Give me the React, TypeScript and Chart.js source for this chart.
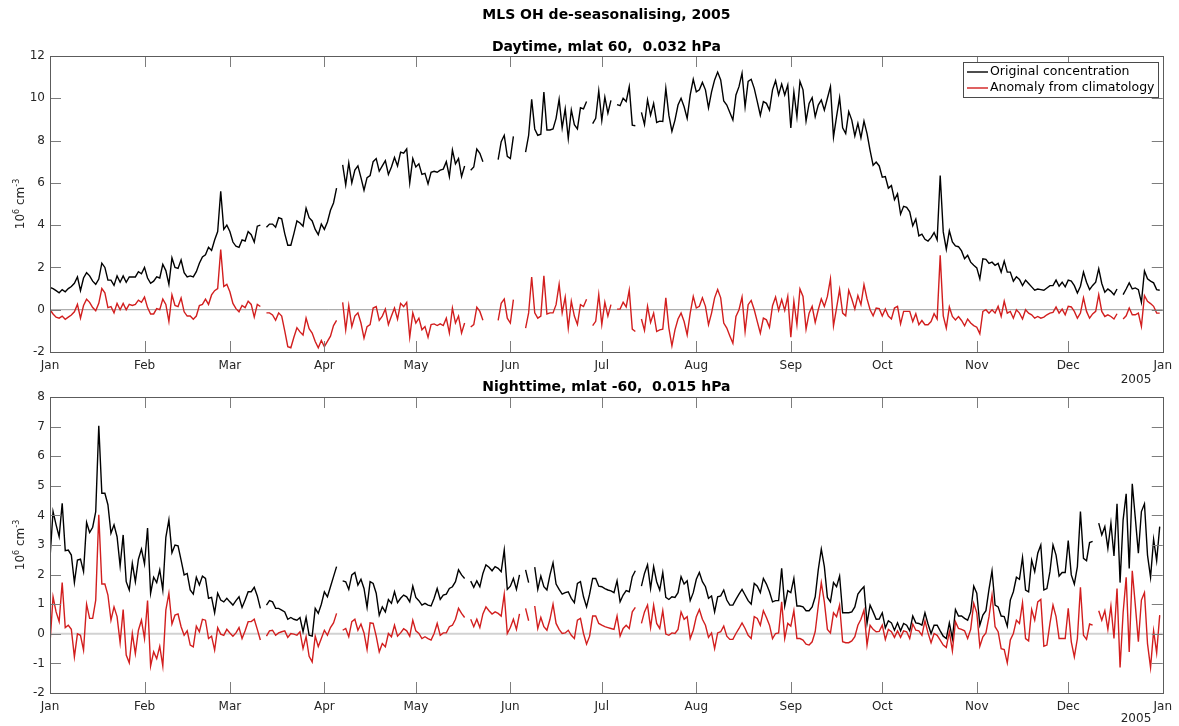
import React, { useEffect, useRef } from 'react';
import { Chart, registerables } from 'chart.js';

Chart.register(...registerables);

// ---- axis labels & titles ----
const MONTH_LABELS = ['Jan', 'Feb', 'Mar', 'Apr', 'May', 'Jun', 'Jul', 'Aug', 'Sep', 'Oct', 'Nov', 'Dec', 'Jan'];
const MONTH_START_DAYS = [0, 31, 59, 90, 120, 151, 181, 212, 243, 273, 304, 334, 365];
const MAIN_TITLE = 'MLS OH de-seasonalising, 2005';
const TOP_SUBTITLE = 'Daytime, mlat 60,  0.032 hPa';
const BOTTOM_SUBTITLE = 'Nighttime, mlat -60,  0.015 hPa';
const LEGEND_LABELS = ['Original concentration', 'Anomaly from climatology'];
const YEAR_LABEL = '2005';
const TOP_Y_RANGE = [-2, 12, 2];
const BOTTOM_Y_RANGE = [-2, 8, 1];

// ---- daily OH, 10^6 cm^-3 (null = no retrieval) ----
const TOP_ORIGINAL = [
  1.05, 1.0, 0.9, 0.8, 0.95, 0.85, 1.0, 1.1, 1.25, 1.55,
  0.9, 1.5, 1.75, 1.6, 1.35, 1.2, 1.45, 2.2, 2.0, 1.4,
  1.4, 1.15, 1.6, 1.3, 1.6, 1.3, 1.55, 1.55, 1.55, 1.8,
  1.7, 2.0, 1.5, 1.25, 1.35, 1.55, 1.5, 2.15, 1.85, 1.2,
  2.45, 2.0, 1.95, 2.35, 1.75, 1.55, 1.6, 1.55, 1.8, 2.2,
  2.5, 2.6, 2.95, 2.8, 3.3, 3.7, 5.6, 3.8, 4.0, 3.7,
  3.2, 3.0, 2.95, 3.3, 3.25, 3.7, 3.55, 3.2, 3.95, 4.0,
  null, 3.9, 4.05, 4.05, 3.9, 4.35, 4.3, 3.6, 3.05, 3.05,
  3.6, 4.2, 4.1, 3.95, 4.8, 4.35, 4.2, 3.8, 3.55, 4.05,
  3.8, 4.15, 4.7, 5.05, 5.75, null, 6.85, 5.9, 6.95, 6.0,
  6.6, 6.8, 6.25, 5.65, 6.25, 6.35, 7.0, 7.15, 6.55, 6.8,
  7.05, 6.4, 6.75, 7.2, 6.8, 7.45, 7.4, 7.6, 6.0, 7.15,
  6.75, 6.9, 6.4, 6.45, 5.95, 6.5, 6.55, 6.5, 6.6, 6.65,
  7.0, 6.3, 7.55, 6.9, 7.15, 6.3, 6.8, null, 6.6, 6.75,
  7.6, 7.4, 7.0, null, null, null, null, 7.1, 7.95, 8.25,
  7.25, 7.15, 8.2, null, null, null, 7.45, 8.25, 9.95, 8.55,
  8.25, 8.3, 10.3, 8.5, 8.5, 8.55, 9.05, 9.95, 8.6, 9.5,
  8.1, 9.45, 8.75, 8.55, 9.55, 9.5, 9.85, null, 8.8, 9.05,
  10.35, 8.95, 10.05, 9.3, 9.9, null, 9.7, 9.65, 10.0, 9.85,
  10.55, 8.73, 8.7, null, 9.33, 8.76, 9.92, 9.2, 9.76, 8.86,
  8.92, 8.9, 10.47, 9.2, 8.44, 8.97, 9.68, 10.0, 9.6, 9.05,
  10.16, 10.9, 10.3, 10.4, 10.75, 10.4, 9.55, 10.3, 10.87, 11.24,
  10.87, 9.87, 9.68, 9.33, 8.97, 10.16, 10.55, 11.19, 9.6, 10.8,
  10.9, 10.47, 9.84, 9.2, 9.84, 9.76, 9.44, 10.4, 10.83, 10.16,
  10.67, 10.16, 10.63, 8.6, 10.3, 9.13, 10.8, 10.4, 8.92, 9.76,
  10.03, 9.13, 9.68, 9.92, 9.44, 10.0, 10.55, 8.17, 9.13, 10.03,
  8.6, 8.33, 9.37, 8.97, 8.22, 8.81, 8.13, 8.92, 8.33, 7.54,
  6.83, 6.98, 6.8, 6.27, 6.3, 5.75, 5.87, 5.2, 5.48, 4.52,
  4.89, 4.84, 4.63, 3.97, 4.29, 3.49, 3.57, 3.33, 3.25, 3.41,
  3.65, 3.3, 6.35, 3.68, 2.86, 3.73, 3.21, 3.02, 2.98, 2.78,
  2.41, 2.57, 2.25, 2.1, 1.98, 1.46, 2.41, 2.38, 2.19, 2.25,
  2.1, 2.19, 1.78, 2.3, 1.78, 1.78, 1.35, 1.56, 1.43, 1.14,
  1.4, 1.24, 1.08, 0.92, 0.98, 0.95, 0.92, 1.03, 1.14, 1.14,
  1.4, 1.11, 1.3, 1.08, 1.4, 1.35, 1.14, 0.79, 1.11, 1.78,
  1.3, 0.95, 1.15, 1.3, 1.94, 1.24, 0.83, 0.98, 0.87, 0.71,
  0.98, null, 0.71, 0.98, 1.27, 0.98, 1.03, 0.95, 0.35, 1.83,
  1.46, 1.35, 1.27, 0.95, 0.92,
];

const TOP_ANOMALY = [
  0.0, -0.2, -0.35, -0.4, -0.3, -0.45, -0.35, -0.25, -0.1, 0.25,
  -0.4, 0.2, 0.5, 0.35, 0.1, -0.05, 0.3, 1.0, 0.8, 0.1,
  0.15, -0.15, 0.3, 0.0, 0.3, 0.0, 0.25, 0.2, 0.25, 0.45,
  0.35, 0.6, 0.1, -0.2, -0.2, 0.05, 0.0, 0.5, 0.25, -0.55,
  0.7, 0.2, 0.15, 0.55, -0.1, -0.3, -0.3, -0.45, -0.3, 0.2,
  0.25, 0.5, 0.25, 0.7, 0.9, 1.0, 2.85, 1.1, 1.2, 0.85,
  0.3, 0.05, -0.1, 0.2, 0.1, 0.4, 0.25, -0.35, 0.25, 0.15,
  null, -0.15, -0.15, -0.25, -0.5, -0.15, -0.3, -1.0, -1.75, -1.8,
  -1.3, -0.85, -1.05, -1.2, -0.4, -0.9, -1.1, -1.5, -1.8, -1.45,
  -1.75, -1.5, -1.25, -0.75, -0.5, null, 0.35, -0.95, 0.2, -0.8,
  -0.3, -0.15, -0.63, -1.35, -0.8, -0.7, 0.08, 0.15, -0.5, -0.3,
  0.03, -0.7, -0.3, 0.08, -0.45, 0.3, 0.15, 0.35, -1.3, -0.15,
  -0.63, -0.4, -0.95, -0.8, -1.3, -0.7, -0.67, -0.75, -0.67, -0.75,
  -0.4, -1.1, 0.08, -0.63, -0.3, -1.1, -0.63, null, -0.82, -0.7,
  0.12, -0.08, -0.5, null, null, null, null, -0.5, 0.3, 0.5,
  -0.4, -0.63, 0.48, null, null, null, -0.87, -0.15, 1.55, -0.15,
  -0.4, -0.3, 1.6, -0.2, -0.15, -0.15, 0.24, 1.2, -0.15, 0.6,
  -0.87, 0.4, -0.3, -0.7, 0.24, 0.15, 0.5, null, -0.75, -0.55,
  0.72, -0.7, 0.35, -0.3, 0.24, null, 0.03, 0.03, 0.35, 0.13,
  0.92, -0.92, -1.03, null, -0.44, -0.98, 0.16, -0.6, -0.16, -1.03,
  -0.95, -0.92, 0.56, -0.87, -1.71, -0.95, -0.44, -0.16, -0.56, -1.19,
  -0.16, 0.63, 0.08, 0.16, 0.56, 0.16, -0.71, -0.16, 0.56, 0.95,
  0.56, -0.63, -0.87, -1.24, -1.59, -0.32, 0.0, 0.6, -1.03, 0.24,
  0.44, 0.0, -0.56, -1.11, -0.4, -0.48, -0.83, 0.19, 0.6, -0.03,
  0.48, -0.03, 0.63, -1.3, 0.4, -0.71, 0.98, 0.63, -0.92, -0.16,
  0.16, -0.6, 0.0, 0.51, 0.16, 0.63, 1.46, -0.76, 0.08, 0.95,
  -0.16, -0.29, 0.92, 0.51, 0.03, 0.67, 0.24, 1.19, 0.51, 0.0,
  -0.29, 0.08, 0.05, -0.3, 0.03, -0.3, -0.44, 0.08, 0.16, -0.67,
  -0.08, -0.08, -0.08, -0.56, -0.19, -0.71, -0.51, -0.71, -0.71, -0.56,
  -0.19, -0.44, 2.57, -0.29, -0.87, 0.13, -0.32, -0.48, -0.32, -0.51,
  -0.76, -0.44, -0.63, -0.75, -0.83, -1.14, -0.08, 0.0, -0.16, 0.0,
  -0.16, 0.16, -0.32, 0.4, -0.16, -0.08, -0.4, 0.0, -0.16, -0.44,
  0.0, -0.16, -0.24, -0.4, -0.32, -0.4, -0.35, -0.24, -0.16, -0.13,
  0.13, -0.16, 0.03, -0.24, 0.16, 0.13, -0.08, -0.4, -0.16, 0.56,
  -0.08, -0.4, -0.2, -0.08, 0.71, -0.08, -0.32, -0.24, -0.32, -0.44,
  -0.19, null, -0.44, -0.29, 0.08, -0.24, -0.24, -0.16, -0.79, 0.67,
  0.4, 0.29, 0.16, -0.16, -0.16,
];

const BOTTOM_ORIGINAL = [
  2.55, 4.13, 3.68, 3.28, 4.41, 2.81, 2.83, 2.66, 1.73, 2.49,
  2.52, 2.1, 3.76, 3.42, 3.6, 4.13, 7.03, 4.75, 4.75, 4.36,
  3.4, 3.68, 3.28, 2.29, 3.34, 1.76, 1.48, 2.38, 1.76, 2.52,
  2.86, 2.36, 3.57, 1.37, 1.91, 1.73, 2.16, 1.48, 3.26, 3.85,
  2.74, 3.0, 2.97, 2.49, 1.99, 2.04, 1.48, 1.34, 1.91, 1.65,
  1.95, 1.87, 1.2, 1.23, 0.71, 1.37, 1.14, 1.08, 1.2, 1.08,
  0.97, 1.12, 1.25, 0.89, 1.14, 1.42, 1.42, 1.57, 1.28, 0.86,
  null, 0.97, 1.12, 1.08, 0.86, 0.86, 0.8, 0.74, 0.49, 0.55,
  0.49, 0.46, 0.55, 0.07, 0.55, -0.05, -0.08, 0.86, 0.69, 1.0,
  1.42, 1.25, 1.59, 1.93, 2.27, null, 1.79, 1.76, 1.5, 1.99,
  2.07, 1.65, 1.84, 1.53, 0.89, 1.76, 1.7, 1.37, 0.63, 0.91,
  0.74, 1.16, 1.03, 1.42, 1.05, 1.2, 1.31, 1.25, 1.08, 1.61,
  1.23, 1.12, 0.97, 1.03, 0.97, 0.94, 1.2, 1.53, 1.16, 1.31,
  1.34, 1.53, 1.59, 1.76, 2.16, 1.99, 1.87, null, 1.78, 1.57,
  1.79, 1.59, 2.04, 2.33, 2.25, 2.13, 2.27, 2.21, 2.1, 2.83,
  1.5, 1.61, 1.87, 1.5, 1.99, null, 2.16, 1.73, null, 2.25,
  1.5, 1.95, 1.59, 1.48, 1.99, 2.4, 1.68, 1.5, 1.34, 1.39,
  1.42, 1.2, 1.05, 1.7, 1.76, 1.25, 0.91, 1.34, 1.87, 1.87,
  1.61, 1.59, 1.53, 1.48, 1.45, 1.39, 1.79, 1.08, 1.31, 1.46,
  1.42, 1.93, 2.13, null, 1.61, 2.04, 2.33, 1.53, 2.27, 1.76,
  1.48, 2.07, 1.23, 1.16, 1.25, 1.23, 1.39, 1.93, 1.68, 1.79,
  1.12, 1.39, 1.84, 2.07, 1.76, 1.59, 1.2, 1.28, 0.74, 1.25,
  1.28, 1.48, 1.14, 0.97, 0.97, 1.16, 1.34, 1.5, 1.31, 1.12,
  1.0, 1.7, 1.61, 1.39, 1.87, 1.68, 1.42, 1.08, 1.12, 1.12,
  2.21, 0.94, 1.46, 1.39, 1.87, 0.94, 0.94, 0.91, 0.78, 0.78,
  0.91, 1.25, 2.16, 2.86, 2.27, 1.23, 1.08, 1.73, 1.59, 1.95,
  0.71, 0.71, 0.71, 0.74, 0.91, 1.34, 1.48, 1.59, 0.35, 0.97,
  0.74, 0.49, 0.5, 0.71, 0.2, 0.44, 0.37, 0.12, 0.37, 0.1,
  0.35, 0.29, 0.1, 0.6, 0.37, 0.35, 0.29, 0.71, 0.33, 0.01,
  0.29, 0.29, 0.1, -0.08, -0.16, 0.37, -0.16, 0.82, 0.6, 0.6,
  0.52, 0.46, 0.74, 1.61, 1.37, 0.29, 0.63, 0.78, 1.5, 2.13,
  0.97, 0.91, 0.6, 0.58, 0.26, 1.14, 1.42, 1.91, 1.84, 2.58,
  1.48, 1.42, 2.49, 2.1, 2.72, 3.0, 1.48, 1.53, 2.1, 3.0,
  2.66, 1.95, 2.07, 2.07, 3.15, 1.99, 1.68, 2.27, 4.13, 2.55,
  2.47, 3.08, 3.12, null, 3.74, 3.34, 3.62, 2.89, 3.74, 2.63,
  4.39, 1.73, 3.85, 4.73, 2.21, 5.07, 3.91, 2.72, 4.13, 4.39,
  2.66, 1.91, 3.19, 2.47, 3.62,
];

const BOTTOM_ANOMALY = [
  -0.33, 1.25, 0.74, 0.41, 1.73, 0.21, 0.29, 0.15, -0.78, 0.0,
  -0.05, -0.55, 1.0, 0.52, 0.52, 1.14, 4.02, 1.68, 1.68, 1.31,
  0.46, 0.91, 0.58, -0.3, 0.82, -0.72, -0.98, 0.01, -0.67, 0.12,
  0.46, -0.16, 1.12, -1.09, -0.61, -0.84, -0.42, -1.09, 0.8, 1.37,
  0.33, 0.63, 0.67, 0.24, -0.05, 0.1, -0.38, -0.44, 0.26, 0.07,
  0.49, 0.46, -0.16, -0.08, -0.55, 0.21, -0.01, -0.05, 0.15, 0.03,
  -0.08, 0.03, 0.21, -0.16, 0.1, 0.41, 0.41, 0.49, 0.15, -0.21,
  null, -0.08, 0.1, 0.12, -0.05, 0.03, 0.07, 0.1, -0.12, 0.01,
  -0.01, -0.05, 0.07, -0.5, -0.1, -0.76, -0.95, -0.08, -0.43, -0.16,
  0.12, -0.05, 0.21, 0.37, 0.69, null, 0.12, 0.18, -0.1, 0.41,
  0.49, 0.12, 0.33, 0.03, -0.53, 0.37, 0.35, -0.08, -0.61, -0.33,
  -0.44, 0.01, -0.1, 0.29, -0.08, 0.03, 0.17, 0.1, -0.08, 0.46,
  0.1, 0.01, -0.16, -0.1, -0.16, -0.21, 0.01, 0.35, -0.05, 0.03,
  0.03, 0.24, 0.29, 0.49, 0.86, 0.69, 0.55, null, 0.49, 0.24,
  0.49, 0.21, 0.67, 0.91, 0.78, 0.67, 0.74, 0.69, 0.6, 1.34,
  0.01, 0.21, 0.49, 0.15, 0.67, null, 0.86, 0.44, null, 0.94,
  0.18, 0.55, 0.24, 0.12, 0.49, 1.0, 0.35, 0.15, 0.01, 0.03,
  0.12, -0.05, -0.16, 0.46, 0.52, 0.01, -0.35, -0.08, 0.6, 0.6,
  0.35, 0.29, 0.24, 0.21, 0.18, 0.15, 0.6, -0.08, 0.18, 0.29,
  0.18, 0.74, 0.89, null, 0.35, 0.74, 0.97, 0.21, 0.97, 0.35,
  0.18, 0.78, -0.01, -0.05, 0.03, 0.01, 0.15, 0.74, 0.49, 0.58,
  -0.16, 0.12, 0.58, 0.82, 0.49, 0.29, -0.12, 0.03, -0.5, 0.03,
  0.07, 0.26, -0.08, -0.19, -0.19, 0.01, 0.18, 0.37, 0.18, -0.05,
  -0.16, 0.58, 0.52, 0.29, 0.78, 0.55, 0.29, -0.16, 0.01, 0.03,
  1.08, -0.16, 0.35, 0.26, 0.78, -0.16, -0.16, -0.21, -0.35, -0.38,
  -0.27, 0.07, 0.94, 1.73, 1.08, 0.15, 0.03, 0.71, 0.58, 0.97,
  -0.27, -0.3, -0.3, -0.24, -0.1, 0.29, 0.49, 0.8, -0.38, 0.29,
  0.15, 0.07, 0.08, 0.29, -0.19, 0.15, 0.07, -0.12, 0.1, -0.12,
  0.1, 0.07, -0.16, 0.33, 0.12, 0.1, -0.05, 0.44, 0.03, -0.3,
  0.01, -0.05, -0.21, -0.38, -0.46, 0.07, -0.58, 0.41, 0.18, 0.15,
  0.1, -0.16, 0.15, 1.03, 0.71, -0.42, -0.1, 0.03, 0.58, 1.31,
  0.24, 0.07, -0.5, -0.53, -0.98, -0.21, 0.01, 0.46, 0.35, 1.05,
  -0.16, -0.24, 0.82, 0.46, 1.08, 1.16, -0.42, -0.38, 0.35, 0.97,
  0.58, -0.16, -0.16, -0.16, 0.86, -0.27, -0.78, -0.16, 1.57, -0.05,
  -0.19, 0.33, 0.29, null, 0.78, 0.46, 0.78, 0.15, 0.94, -0.16,
  1.53, -1.14, 0.71, 1.91, -0.61, 2.13, 0.97, -0.27, 1.14, 1.39,
  -0.33, -1.14, 0.1, -0.64, 0.63,
];

// ---- styling ----
const FONT = '"DejaVu Sans", sans-serif';
const TEXT_COLOR = '#262626';
const ORIGINAL_COLOR = '#000000';
const ANOMALY_COLOR = '#d21e1e';
const BOX_COLOR = '#5c5c5c';
const TICK_COLOR = '#7d7d7d';
const TICK_LEN = 11;
const PAGE_W = 1179;
const PAGE_H = 726;
const PLOT_LEFT = 50;
const PLOT_RIGHT = 1163;

type Decor = {
  mainTitle?: string;
  subtitle: string;
  subtitleY: number;
  yearY: number;
  zeroColor: string;
  zeroWidth: number;
  legend: boolean;
};

const panelDecor = {
  id: 'panelDecor',
  beforeDatasetsDraw(chart: any, _args: any, opts: Decor) {
    const { ctx, chartArea: a } = chart;
    const y0 = chart.scales.y.getPixelForValue(0);
    ctx.save();
    ctx.strokeStyle = opts.zeroColor;
    ctx.lineWidth = opts.zeroWidth;
    ctx.beginPath();
    ctx.moveTo(a.left, y0);
    ctx.lineTo(a.right, y0);
    ctx.stroke();
    ctx.restore();
  },
  afterDraw(chart: any, _args: any, opts: Decor) {
    const { ctx, chartArea: a } = chart;
    const xs = chart.scales.x;
    const ys = chart.scales.y;
    const cx = (a.left + a.right) / 2;
    ctx.save();

    // inward tick marks on all four sides
    ctx.strokeStyle = TICK_COLOR;
    ctx.lineWidth = 1;
    ctx.beginPath();
    xs.ticks.forEach((t: any) => {
      const px = Math.round(xs.getPixelForValue(t.value)) + 0.5;
      ctx.moveTo(px, a.bottom);
      ctx.lineTo(px, a.bottom - TICK_LEN);
      ctx.moveTo(px, a.top);
      ctx.lineTo(px, a.top + TICK_LEN);
    });
    ys.ticks.forEach((t: any) => {
      const py = Math.round(ys.getPixelForValue(t.value)) + 0.5;
      ctx.moveTo(a.left, py);
      ctx.lineTo(a.left + TICK_LEN, py);
      ctx.moveTo(a.right, py);
      ctx.lineTo(a.right - TICK_LEN, py);
    });
    ctx.stroke();

    // axes box
    ctx.strokeStyle = BOX_COLOR;
    ctx.strokeRect(Math.round(a.left) + 0.5, Math.round(a.top) + 0.5,
      Math.round(a.right - a.left), Math.round(a.bottom - a.top));

    // titles
    ctx.fillStyle = '#000';
    ctx.textAlign = 'center';
    ctx.textBaseline = 'middle';
    if (opts.mainTitle) {
      ctx.font = `bold 14px ${FONT}`;
      ctx.fillText(opts.mainTitle, cx, 15);
    }
    ctx.font = `bold 14px ${FONT}`;
    ctx.fillText(opts.subtitle, cx, opts.subtitleY);

    // year under the date axis
    ctx.font = `12px ${FONT}`;
    ctx.fillStyle = TEXT_COLOR;
    ctx.fillText(YEAR_LABEL, 1136, opts.yearY);

    // y-axis title: 10^6 cm^-3
    const cy = (a.top + a.bottom) / 2;
    ctx.translate(20, cy);
    ctx.rotate(-Math.PI / 2);
    const big = `12px ${FONT}`;
    const small = `8px ${FONT}`;
    const parts: [string, string, number][] = [
      ['10', big, 0], ['6', small, -5], [' cm', big, 0], ['-3', small, -5],
    ];
    let total = 0;
    parts.forEach(([s, f]) => { ctx.font = f; total += ctx.measureText(s).width; });
    let x = -total / 2;
    ctx.textAlign = 'left';
    ctx.textBaseline = 'alphabetic';
    parts.forEach(([s, f, dy]) => {
      ctx.font = f;
      ctx.fillText(s, x, 4 + dy);
      x += ctx.measureText(s).width;
    });
    ctx.setTransform(1, 0, 0, 1, 0, 0);

    // legend box
    if (opts.legend) {
      const lx = 963, ly = 62, lw = 195, lh = 35;
      ctx.fillStyle = '#fff';
      ctx.fillRect(lx, ly, lw, lh);
      ctx.strokeStyle = '#4a4a4a';
      ctx.lineWidth = 1;
      ctx.strokeRect(lx + 0.5, ly + 0.5, lw, lh);
      const rows: [string, string, number][] = [
        [LEGEND_LABELS[0], ORIGINAL_COLOR, ly + 10],
        [LEGEND_LABELS[1], ANOMALY_COLOR, ly + 26],
      ];
      ctx.font = `12.5px ${FONT}`;
      ctx.textAlign = 'left';
      ctx.textBaseline = 'middle';
      rows.forEach(([label, color, ry]) => {
        ctx.strokeStyle = color;
        ctx.lineWidth = 1.4;
        ctx.beginPath();
        ctx.moveTo(lx + 4, ry);
        ctx.lineTo(lx + 25, ry);
        ctx.stroke();
        ctx.fillStyle = '#000';
        ctx.fillText(label, lx + 27, ry);
      });
    }
    ctx.restore();
  },
};

function toPoints(values: (number | null)[]) {
  return values.map((v, i) => ({ x: i, y: v }));
}

function makeConfig(
  original: (number | null)[],
  anomaly: (number | null)[],
  yRange: number[],
  padTop: number,
  xAxisHeight: number,
  decor: Decor,
): any {
  const tickFont = { family: FONT, size: 12 };
  return {
    type: 'line',
    data: {
      datasets: [
        {
          label: LEGEND_LABELS[1],
          data: toPoints(anomaly),
          borderColor: ANOMALY_COLOR,
          borderWidth: 1.4,
          pointRadius: 0,
          spanGaps: false,
          tension: 0,
        },
        {
          label: LEGEND_LABELS[0],
          data: toPoints(original),
          borderColor: ORIGINAL_COLOR,
          borderWidth: 1.4,
          pointRadius: 0,
          spanGaps: false,
          tension: 0,
        },
      ],
    },
    options: {
      responsive: false,
      animation: false,
      devicePixelRatio: 1,
      events: [],
      layout: { padding: { top: padTop, right: PAGE_W - PLOT_RIGHT, left: 0, bottom: 0 } },
      plugins: {
        legend: { display: false },
        tooltip: { enabled: false },
        title: { display: false },
        panelDecor: decor,
      },
      scales: {
        x: {
          type: 'linear',
          min: 0,
          max: 365,
          grid: { display: false, drawTicks: false },
          border: { display: false },
          ticks: {
            autoSkip: false,
            maxRotation: 0,
            padding: 7,
            color: TEXT_COLOR,
            font: tickFont,
            callback: (value: number) => {
              const i = MONTH_START_DAYS.indexOf(value);
              return i >= 0 ? MONTH_LABELS[i] : '';
            },
          },
          afterBuildTicks: (scale: any) => {
            scale.ticks = MONTH_START_DAYS.map((v) => ({ value: v }));
          },
          afterFit: (scale: any) => { scale.height = xAxisHeight; },
        },
        y: {
          min: yRange[0],
          max: yRange[1],
          grid: { display: false, drawTicks: false },
          border: { display: false },
          ticks: { stepSize: yRange[2], padding: 5, color: TEXT_COLOR, font: tickFont },
          afterFit: (scale: any) => { scale.width = PLOT_LEFT; },
        },
      },
    },
    plugins: [panelDecor],
  };
}

const TOP_CANVAS = { top: 0, height: 392 };
const BOTTOM_CANVAS = { top: 372, height: 354 };

export default function App() {
  const topRef = useRef<HTMLCanvasElement>(null);
  const bottomRef = useRef<HTMLCanvasElement>(null);

  useEffect(() => {
    const charts: Chart[] = [];
    if (topRef.current) {
      charts.push(new Chart(topRef.current, makeConfig(
        TOP_ORIGINAL, TOP_ANOMALY, TOP_Y_RANGE, 56, TOP_CANVAS.height - 352,
        {
          mainTitle: MAIN_TITLE,
          subtitle: TOP_SUBTITLE,
          subtitleY: 47,
          yearY: 380,
          zeroColor: '#9a9a9a',
          zeroWidth: 1,
          legend: true,
        },
      )));
    }
    if (bottomRef.current) {
      charts.push(new Chart(bottomRef.current, makeConfig(
        BOTTOM_ORIGINAL, BOTTOM_ANOMALY, BOTTOM_Y_RANGE, 397 - BOTTOM_CANVAS.top,
        BOTTOM_CANVAS.height - (693 - BOTTOM_CANVAS.top),
        {
          subtitle: BOTTOM_SUBTITLE,
          subtitleY: 387 - BOTTOM_CANVAS.top,
          yearY: 719 - BOTTOM_CANVAS.top,
          zeroColor: '#d2d2d2',
          zeroWidth: 2,
          legend: false,
        },
      )));
    }
    return () => charts.forEach((c) => c.destroy());
  }, []);

  return (
    <div style={{ position: 'fixed', left: 0, top: 0, width: PAGE_W, height: PAGE_H, background: '#fff', overflow: 'hidden' }}>
      <canvas
        ref={topRef}
        width={PAGE_W}
        height={TOP_CANVAS.height}
        style={{ position: 'absolute', left: 0, top: TOP_CANVAS.top }}
      />
      <canvas
        ref={bottomRef}
        width={PAGE_W}
        height={BOTTOM_CANVAS.height}
        style={{ position: 'absolute', left: 0, top: BOTTOM_CANVAS.top }}
      />
    </div>
  );
}
